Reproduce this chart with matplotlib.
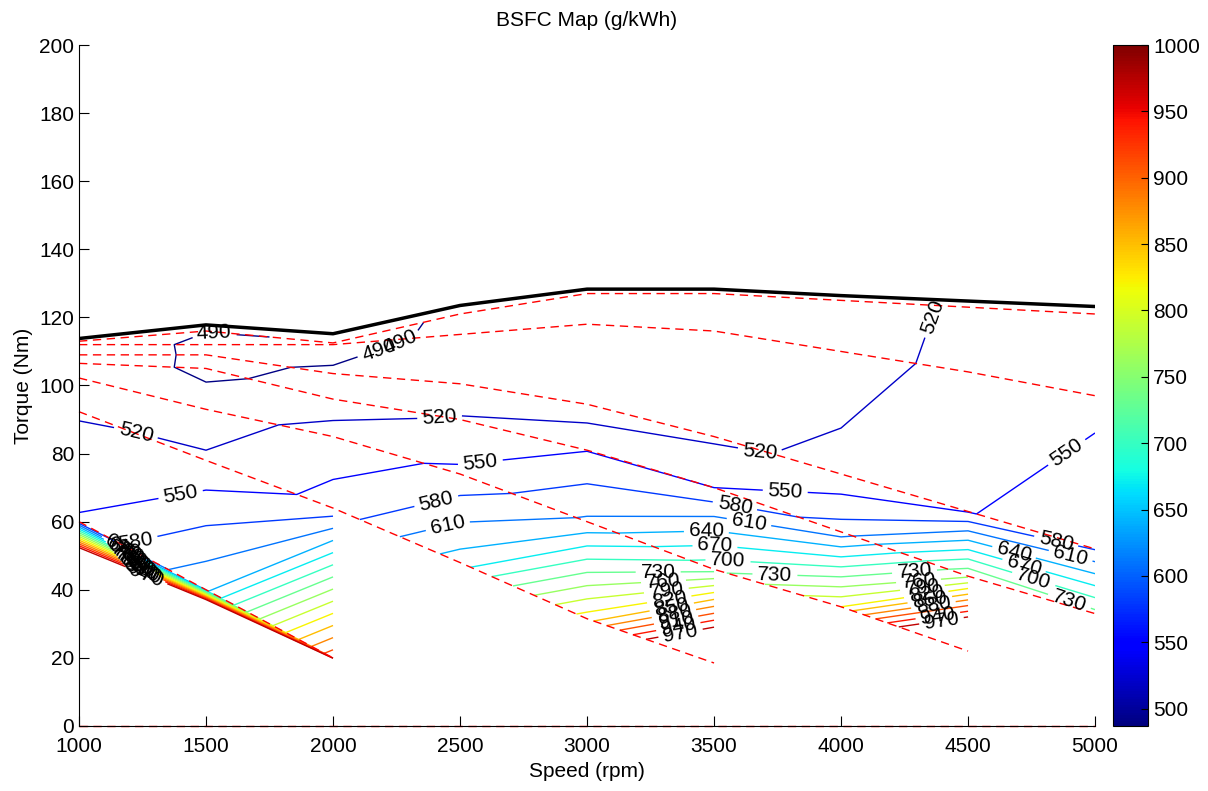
import numpy as np
import matplotlib
matplotlib.use('Agg')
import matplotlib.pyplot as plt
from matplotlib.colors import Normalize
from matplotlib.cm import ScalarMappable

plt.rcParams['font.family'] = ['Liberation Sans', 'DejaVu Sans']

nan = np.nan
speed = [1000, 1500, 2000, 2500, 3000, 3500, 4000, 4500, 5000]

# wide open throttle curve
max_torque = [113.8, 117.8, 115.2, 123.5, 128.3, 128.3, 126.4, 124.8, 123.2]

# torque of each measurement row (Nm), top to bottom
trq_1 = [113, 116, 112.5, 121, 127, 127, 125, 123, 121]
trq_2 = [112, 112, 112, 115, 118, 116, 110, 104, 97]
trq_3 = [109, 109, 103.5, 100.5, 94.5, 85, 74, 63, 52]
trq_4 = [106.5, 105, 96, 90, 81, 70, 57, 44, 33]
trq_5 = [102.2, 93, 85, 74, 60, 46, 35, 22, nan]
trq_6 = [92.3, 78, 64, 48, 31.5, 18.5, nan, nan, nan]
trq_7 = [60, 40, 20, nan, nan, nan, nan, nan, nan]
trq_8 = [50, 36, 19.5, nan, nan, nan, nan, nan, nan]
trq_0 = [0, 0, 0, 0, 0, 0, 0, 0, 0]

# bsfc (g/kWh) for the same rows
bsfc_1 = [500, 490.5, 489.5, 490.2, 496, 500, 505, 525, 532]
bsfc_2 = [502, 486, 485, 493, 497, 502, 510, 527, 541]
bsfc_3 = [503, 486, 492, 503, 500, 515, 526, 548, 578]
bsfc_4 = [505, 485, 500, 522, 549, 550, 595, 755, 740]
bsfc_5 = [510, 500, 535, 556, 615, 720, 820, 1150, nan]
bsfc_6 = [517, 525, 560, 655, 835, 1125, nan, nan, nan]
bsfc_7 = [553, 634, 930, nan, nan, nan, nan, nan, nan]
bsfc_8 = [1100, 1100, 1100, nan, nan, nan, nan, nan, nan]
bsfc_0 = [nan] * 9

trq_rows = [trq_1, trq_2, trq_3, trq_4, trq_5, trq_6, trq_7, trq_8, trq_0]
bsfc_rows = [bsfc_1, bsfc_2, bsfc_3, bsfc_4, bsfc_5, bsfc_6, bsfc_7, bsfc_8, bsfc_0]

# where the contour labels sit (rpm, Nm)
label_spots = [
    (1530, 113), (2240, 118), (2200, 109),
    (1220, 85), (2420, 90), (3680, 80), (4370, 120),
    (1400, 68), (2580, 77.5), (3780, 68.5), (4910, 78),
    (1220, 55), (2413, 64), (3583, 65), (4843, 53),
    (2461, 56), (3640, 61), (4900, 48.8),
    (3470, 57.5), (4680, 50.7),
    (3504, 53.2), (4720, 47),
    (3555, 48.5), (4760, 43.5),
    (3280, 46.5), (3740, 45), (4900, 36.8),
    # crowded ends
    (3300, 43.9), (3310, 41.4), (3320, 38.9), (3330, 36.4),
    (3340, 33.9), (3350, 31.4), (3360, 28.9), (3370, 26.5),
    (4290, 44.5), (4305, 42.6), (4320, 40.7), (4335, 38.8),
    (4350, 36.8), (4365, 34.9), (4380, 33), (4395, 31.1),
    (1170, 52.75), (1178, 52.0), (1186, 51.25), (1194, 50.52),
    (1202, 49.79), (1210, 49.08), (1218, 48.37), (1226, 47.67),
    (1234, 46.98), (1242, 46.3), (1250, 45.63), (1258, 44.97),
    (1266, 44.31),
]

T = np.array(trq_rows, dtype=float)
Z = np.ma.masked_invalid(np.array(bsfc_rows, dtype=float))
X = np.tile(np.array(speed, dtype=float), (T.shape[0], 1))
Tg = np.where(np.isnan(T), 0.0, T)

fig = plt.figure(figsize=(12.08, 7.91), dpi=100)
ax = fig.add_axes([0.0654, 0.0822, 0.8411, 0.8609])
cax = fig.add_axes([0.9214, 0.0822, 0.029, 0.8609])

norm = Normalize(vmin=487, vmax=1000)
levels = np.arange(490, 1000, 30)
cs = ax.contour(X, Tg, Z, levels=levels, cmap='jet', norm=norm,
                linewidths=1, corner_mask=False)
ax.set_xlim(1000, 5000)
ax.set_ylim(0, 200)
ax.clabel(cs, fmt='%d', fontsize=15, colors='k', inline=True,
          manual=label_spots)

for row in trq_rows:
    if row is trq_8:
        continue
    ax.plot(speed, row, 'r--', lw=1, dashes=(6, 4), clip_on=False)
ax.plot(speed, max_torque, 'k-', lw=2.5)

ax.set_xticks(range(1000, 5001, 500))
ax.set_yticks(range(0, 201, 20))
ax.tick_params(direction='in', length=7, labelsize=15)
ax.tick_params(axis='x', pad=8)
for s in ['top', 'right']:
    ax.spines[s].set_visible(False)
ax.set_xlabel('Speed (rpm)', fontsize=15, labelpad=4)
ax.set_ylabel('Torque (Nm)', fontsize=15, labelpad=4)
ax.set_title('BSFC Map (g/kWh)', fontsize=15, pad=14)

cb = fig.colorbar(ScalarMappable(norm=norm, cmap='jet'), cax=cax)
cb.set_ticks(range(500, 1001, 50))
cb.ax.tick_params(direction='in', length=5, labelsize=15)

fig.savefig('out.png', dpi=100)
